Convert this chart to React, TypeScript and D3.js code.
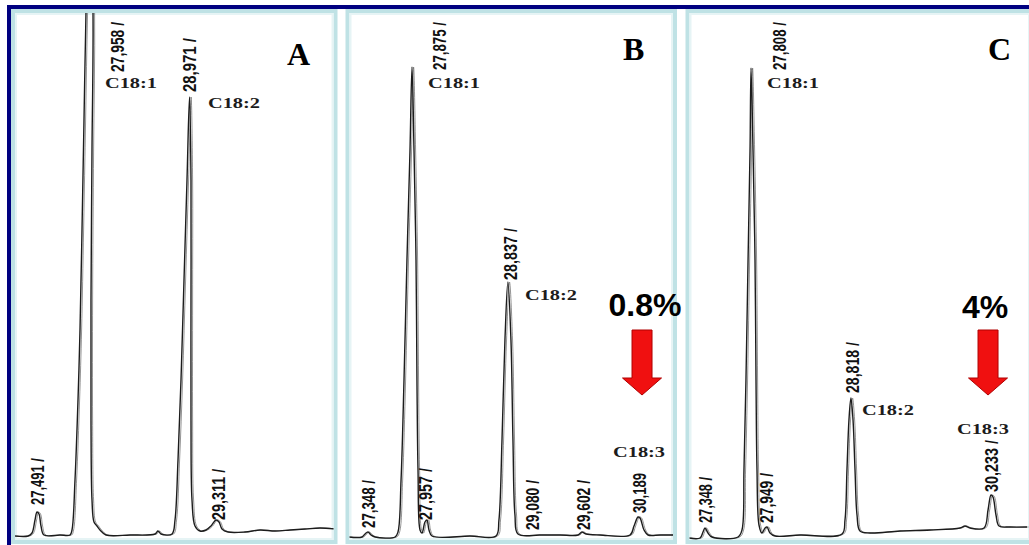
import * as d3 from "d3";

// Chromatograms (retention time in min, detector signal in %)
const traceA: [number, number][] = [
  [27.25, 0.2], [27.38, 0.2], [27.42, 0.8], [27.45, 3.4], [27.47, 5.0], [27.49, 4.6],
  [27.51, 2.2], [27.54, 0.4], [27.7, 0.4], [27.8, 0.4], [27.82, 1.4], [27.85, 11.4],
  [27.88, 27.4], [27.9, 41.4], [27.92, 61.4], [27.94, 83.4], [27.96, 105], [27.995, 129.4],
  [28.03, 105], [28.02, 77.4], [28.01, 47.4], [28.01, 23.4], [28.02, 7.4], [28.04, 3.0],
  [28.07, 2.2], [28.1, 1.4], [28.16, 0.4], [28.4, 0.4], [28.65, 0.6], [28.68, 1.2],
  [28.71, 0.6], [28.82, 0.6], [28.85, 3.4], [28.88, 15.4], [28.91, 31.4], [28.94, 51.4],
  [28.97, 71.4], [28.995, 88], [29.01, 71.4], [29.01, 47.4], [29.01, 23.4], [29.02, 7.4],
  [29.05, 2.2], [29.1, 1.2], [29.16, 1.4], [29.21, 2.2], [29.26, 3.4], [29.29, 3.0],
  [29.32, 1.6], [29.38, 1.0], [29.55, 1.0], [29.7, 1.4], [29.85, 1.2], [30.0, 1.4],
  [30.15, 1.6], [30.3, 1.8], [30.45, 1.6],
];

const traceB: [number, number][] = [
  [27.15, 0], [27.286, 0], [27.318, 0.6], [27.349, 1.0], [27.381, 0.4], [27.423, 0],
  [27.633, 0], [27.664, 1.0], [27.696, 11.4], [27.727, 31.4], [27.758, 55.4], [27.79, 77.4],
  [27.811, 94], [27.832, 77.4], [27.853, 55.4], [27.863, 31.4], [27.874, 13.4], [27.895, 1.4],
  [27.916, 0.8], [27.947, 3.0], [27.968, 3.4], [27.989, 1.4], [28.021, 0.2], [28.419, 0.2],
  [28.692, 0.2], [28.723, 3.4], [28.755, 19.4], [28.786, 39.4], [28.817, 51.0],
  [28.849, 39.4], [28.87, 19.4], [28.891, 4.4], [28.923, 0.6], [29.153, 0.4], [29.364, 0.4],
  [29.552, 0.4], [29.594, 1.0], [29.636, 0.6], [29.783, 0.4], [30.098, 0.4], [30.14, 2.2],
  [30.182, 4.0], [30.203, 3.8], [30.245, 1.4], [30.287, 0.4], [30.413, 0.4], [30.57, 0.4],
];

const traceC: [number, number][] = [
  [27.19, -0.2], [27.301, -0.2], [27.331, 1.0], [27.351, 1.8], [27.381, 0.8], [27.421, 0],
  [27.683, 0], [27.723, 1.4], [27.743, 13.4], [27.763, 31.4], [27.784, 55.4], [27.804, 77.4],
  [27.814, 93.8], [27.834, 77.4], [27.854, 55.4], [27.864, 31.4], [27.874, 13.4], [27.894, 2.4],
  [27.924, 0.8], [27.955, 1.8], [27.975, 2.0], [28.005, 0.8], [28.055, 0.2], [28.307, 0.4],
  [28.729, 0.6], [28.759, 3.4], [28.779, 13.4], [28.799, 23.4], [28.819, 27.8], [28.84, 23.4],
  [28.86, 13.4], [28.88, 4.4], [28.91, 1.2], [29.011, 0.8], [29.313, 1.2], [29.615, 1.4],
  [29.916, 1.8], [29.966, 2.2], [30.017, 1.8], [30.158, 1.8], [30.198, 5.4], [30.228, 8.4],
  [30.248, 8.0], [30.278, 4.4], [30.309, 2.2], [30.419, 2.0], [30.59, 2.0],
];

const retLabelsA = ["27,491 /", "27,958 /", "28,971 /", "29,311 /"];
const retLabelsB = ["27,348 /", "27,875 /", "27,957 /", "28,837 /", "29,080 /", "29,602 /", "30,189"];
const retLabelsC = ["27,348 /", "27,808 /", "27,949 /", "28,818 /", "30,233 /"];

const acidsA = ["C18:1", "C18:2"];
const acidsB = ["C18:1", "C18:2", "C18:3"];
const acidsC = ["C18:1", "C18:2", "C18:3"];

const panelNames = ["A", "B", "C"];
const linolenicShare = ["", "0.8%", "4%"];

// ---- layout (anchors in data units: [time, signal]) ----
const H = 545;
const W = 1029;
const yScale = d3.scaleLinear().domain([0, 100]).range([537, 37]);

interface PanelCfg {
  frame: [number, number]; // left, right of panel border (px)
  xDomain: [number, number];
  xRange: [number, number];
  trace: [number, number][];
  retLabels: string[];
  retAnchors: [number, number, number][]; // t, s, text length
  acids: string[];
  acidAnchors: [number, number][];
  letterAnchor: [number, number];
  pctAnchor?: [number, number];
  arrowT?: number;
}

const panels: PanelCfg[] = [
  {
    frame: [13, 335.5],
    xDomain: [27.25, 30.45],
    xRange: [15, 335],
    trace: traceA,
    retLabels: retLabelsA,
    retAnchors: [[27.48, 6.4, 47], [28.27, 93, 50], [29.0, 89, 54], [29.28, 3.4, 52]],
    acids: acidsA,
    acidAnchors: [[28.15, 89.8], [29.18, 85.8]],
    letterAnchor: [29.97, 94.4],
  },
  {
    frame: [347.5, 675],
    xDomain: [27.15, 30.57],
    xRange: [349, 675],
    trace: traceB,
    retLabels: retLabelsB,
    retAnchors: [
      [27.36, 1.8, 48], [28.105, 93.4, 48], [27.947, 3.4, 52], [28.839, 51.4, 52],
      [29.07, 1.4, 50], [29.605, 1.4, 50], [30.203, 4.8, 40],
    ],
    acids: acidsB,
    acidAnchors: [[27.979, 89.8], [28.996, 47.4], [29.92, 16]],
    letterAnchor: [30.024, 95.4],
    pctAnchor: [30.255, 44.2],
    arrowT: 30.224,
  },
  {
    frame: [687.5, 1032],
    xDomain: [27.19, 30.59],
    xRange: [689, 1027],
    trace: traceC,
    retLabels: retLabelsC,
    retAnchors: [[27.361, 2.8, 46], [28.105, 93.4, 48], [27.965, 2.8, 50], [28.83, 28.8, 51], [30.228, 9, 52]],
    acids: acidsC,
    acidAnchors: [[27.975, 89.8], [28.93, 24.4], [29.886, 20.6]],
    letterAnchor: [30.198, 95.4],
    pctAnchor: [30.168, 43.8],
    arrowT: 30.198,
  },
];

const NAVY = "#000080";
const FRAME = "#bfe2e5";
const INK = "#1c1c1c";
const RED = "#f01010";

const ARROW = { top: 41.4, headStart: 31.8, tip: 28.4, shaftHalf: 10, headHalf: 19.5 };

// Liberation Sans (Arial metrics) advance widths, in em
const RET_FONT = 18;
const ADV: Record<string, number> = { ",": 0.278, " ": 0.278, "/": 0.278 };
const naturalWidth = (s: string) =>
  s.split("").reduce((w, ch) => w + (ADV[ch] ?? 0.556), 0) * RET_FONT;

function Panel({ cfg, idx }: { cfg: PanelCfg; idx: number }) {
  const x = d3.scaleLinear().domain(cfg.xDomain).range(cfg.xRange);
  const line = d3
    .line<[number, number]>()
    .x((d) => x(d[0]))
    .y((d) => yScale(d[1]))
    .curve(d3.curveCatmullRom.alpha(0.5));
  const [l, r] = cfg.frame;
  const clipId = `clip-${idx}`;
  const path = line(cfg.trace) ?? "";

  let arrow = null;
  if (cfg.arrowT !== undefined) {
    const cx = x(cfg.arrowT);
    const yt = yScale(ARROW.top);
    const yh = yScale(ARROW.headStart);
    const yp = yScale(ARROW.tip);
    const pts = [
      [cx - ARROW.shaftHalf, yt], [cx + ARROW.shaftHalf, yt], [cx + ARROW.shaftHalf, yh],
      [cx + ARROW.headHalf, yh], [cx, yp], [cx - ARROW.headHalf, yh], [cx - ARROW.shaftHalf, yh],
    ];
    arrow = (
      <polygon
        points={pts.map((p) => p.join(",")).join(" ")}
        fill={RED}
        stroke="#b00000"
        strokeWidth={1}
      />
    );
  }

  return (
    <g>
      <defs>
        <clipPath id={clipId}>
          <rect x={l + 2} y={13} width={r - l - 4} height={527} />
        </clipPath>
      </defs>
      {/* panel frame */}
      <rect x={l} y={11} width={r - l} height={531} fill="#fff" stroke={FRAME} strokeWidth={4} />
      <rect x={l + 3} y={14} width={r - l - 6} height={525} fill="none" stroke="#e6f4f5" strokeWidth={2} />

      {/* trace */}
      <g clipPath={`url(#${clipId})`}>
        <path d={path} fill="none" stroke="#555" strokeWidth={0.9} opacity={0.7} transform="translate(1.6,0)" />
        <path d={path} fill="none" stroke={INK} strokeWidth={1.4} strokeLinejoin="round" />
      </g>

      {/* retention time labels (condensed by a horizontal scale) */}
      {cfg.retLabels.map((txt, i) => {
        const [t, s, len] = cfg.retAnchors[i];
        const k = len / naturalWidth(txt);
        return (
          <text
            key={txt + i}
            transform={`translate(${x(t)},${yScale(s)}) rotate(-90) scale(${k.toFixed(3)},1)`}
            dominantBaseline="central"
            fontFamily="'Liberation Sans', Arial, sans-serif"
            fontSize={RET_FONT}
            fontWeight="bold"
            fill="#111"
          >
            {txt}
          </text>
        );
      })}

      {/* fatty acid labels */}
      {cfg.acids.map((txt, i) => {
        const [t, s] = cfg.acidAnchors[i];
        return (
          <text
            key={txt}
            x={x(t)}
            y={yScale(s)}
            fontFamily="'Liberation Serif', 'Times New Roman', serif"
            fontWeight="bold"
            fontSize={15}
            textLength={52}
            lengthAdjust="spacingAndGlyphs"
            fill={INK}
          >
            {txt}
          </text>
        );
      })}

      {/* panel letter */}
      <text
        x={x(cfg.letterAnchor[0])}
        y={yScale(cfg.letterAnchor[1])}
        fontFamily="'Liberation Serif', 'Times New Roman', serif"
        fontWeight="bold"
        fontSize={32}
        fill="#000"
      >
        {panelNames[idx]}
      </text>

      {cfg.pctAnchor && (
        <text
          x={x(cfg.pctAnchor[0])}
          y={yScale(cfg.pctAnchor[1])}
          textAnchor="middle"
          fontFamily="'Liberation Sans', Arial, sans-serif"
          fontWeight="bold"
          fontSize={32}
          fill="#000"
        >
          {linolenicShare[idx]}
        </text>
      )}
      {arrow}
    </g>
  );
}

export default function App() {
  return (
    <svg
      width={W}
      height={H}
      style={{ position: "absolute", left: 0, top: 0, background: "#fff" }}
    >
      <rect x={0} y={0} width={W} height={H} fill="#fff" />
      {panels.map((p, i) => (
        <Panel key={i} cfg={p} idx={i} />
      ))}
      {/* navy outer edge */}
      <rect x={7} y={5} width={W - 7} height={4} fill={NAVY} />
      <rect x={7} y={5} width={4} height={H - 5} fill={NAVY} />
    </svg>
  );
}
